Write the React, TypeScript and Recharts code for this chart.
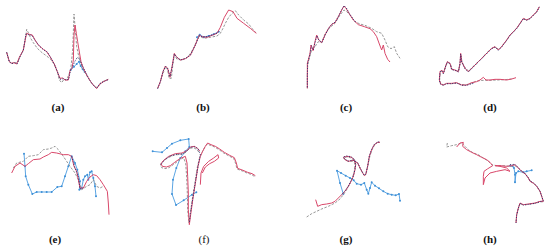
import { ScatterChart, Scatter, XAxis, YAxis } from "recharts";

type P = [number, number];

// panel coordinates: x 0..420, y 0..372 (y grows downward)
const aTruth: P[] = [[20,157],[28,183],[36,190],[44,187],[52,190],[60,170],[70,150],[76,115],[80,88],[86,100],[92,115],[100,128],[112,145],[126,158],[140,168],[152,178],[162,192],[172,215],[178,240],[185,248],[192,238],[200,240],[206,225],[212,210],[218,150],[222,42],[226,90],[230,140],[236,168],[244,195],[252,212],[262,230],[274,248],[285,260],[292,262],[300,250],[312,243],[325,238]];
const aOurs: P[] = [[20,157],[28,185],[35,190],[42,188],[50,192],[58,172],[70,150],[76,118],[80,100],[87,103],[97,105],[105,120],[115,135],[130,148],[140,155],[150,170],[163,192],[172,215],[180,235],[188,234],[195,240],[205,240],[210,212],[216,205],[220,180],[222,105],[225,75],[229,100],[233,125],[237,150],[243,185],[250,205],[260,225],[272,245],[284,260],[290,266],[300,252],[312,244],[325,238]];
const aNavy: P[] = [[20,157],[28,186],[36,191],[44,188],[52,191],[60,170],[70,151],[78,102],[86,104],[96,106],[106,122],[118,138],[130,149],[142,156],[152,172],[164,195],[174,220],[180,238],[190,236],[198,240],[206,238],[212,208],[218,200],[224,185],[232,172],[240,180],[246,195],[256,215],[266,235],[278,254],[290,264],[300,251],[312,244],[325,239]];
const aBlue: P[] = [[212,210],[222,200],[230,192],[237,185],[242,198],[248,208],[254,216]];

const bTruth: P[] = [[62,265],[68,250],[74,232],[80,215],[86,200],[92,210],[96,235],[103,235],[108,190],[112,165],[120,178],[135,180],[150,173],[162,158],[172,140],[182,115],[188,108],[200,115],[220,112],[240,108],[250,100],[258,85],[265,70],[275,52],[285,40],[295,32],[305,45],[320,60],[335,72],[345,85],[358,100]];
const bOurs: P[] = [[62,265],[70,245],[78,215],[85,198],[92,205],[99,232],[105,200],[112,160],[118,170],[130,180],[145,176],[160,166],[175,135],[187,105],[195,110],[210,112],[225,106],[240,100],[250,82],[262,52],[275,30],[288,35],[300,55],[320,70],[340,85],[358,100]];
const bNavy: P[] = [[62,266],[70,246],[78,214],[86,199],[93,207],[99,230],[106,198],[112,162],[119,172],[131,180],[146,175],[161,164],[176,133],[187,107],[196,111],[211,110],[226,104],[241,99],[248,92]];
const bBlue: P[] = [[180,112],[188,104],[200,111],[215,108],[230,103],[245,95]];

const cTruth: P[] = [[97,265],[97,230],[98,195],[103,175],[110,150],[120,140],[130,125],[140,128],[150,102],[165,82],[180,70],[195,45],[207,30],[215,35],[225,45],[240,65],[255,72],[270,76],[290,85],[305,95],[320,100],[330,120],[338,140],[348,146],[358,140],[365,160],[375,175]];
const cOurs: P[] = [[97,265],[97,230],[97,190],[100,180],[105,160],[108,135],[114,152],[120,125],[125,105],[131,120],[140,128],[150,105],[160,86],[170,73],[180,68],[190,50],[200,30],[207,18],[213,25],[222,40],[235,60],[250,74],[268,80],[285,86],[295,95],[305,110],[313,132],[320,150],[325,135],[330,160],[338,178],[345,186]];
const cNavy: P[] = [[97,262],[97,228],[98,188],[101,178],[106,158],[109,137],[115,150],[121,124],[126,107],[132,121],[141,127],[151,104],[161,85],[171,72],[181,66],[191,48],[201,28],[207,17],[214,24],[223,40],[236,60],[244,68]];
const cBlue: P[] = [];

const dTruth: P[] = [[305,237],[285,239],[262,240],[240,241],[220,241],[200,243],[185,249],[170,254],[155,254],[140,249],[125,251],[110,251],[100,254],[92,251],[89,238],[91,217],[96,212],[101,218],[108,197],[113,187],[121,191],[126,207],[136,211],[146,213],[150,192],[153,165],[156,186],[166,204],[176,213],[186,203],[196,193],[206,184],[216,174],[226,163],[236,153],[246,144],[256,141],[266,148],[276,138],[290,121],[300,106],[310,96],[320,84],[330,71],[340,57],[350,59],[360,56],[370,46],[380,36],[388,22]];
const dOurs: P[] = [[318,233],[305,237],[290,240],[270,238],[255,238],[240,240],[228,240],[220,232],[210,240],[200,245],[185,248],[170,255],[155,255],[140,248],[125,250],[110,250],[100,255],[92,252],[88,240],[90,215],[95,210],[100,220],[108,195],[112,185],[120,190],[125,208],[135,210],[145,215],[150,190],[152,160],[155,185],[165,205],[175,215],[185,205],[195,195],[205,185],[215,175],[225,165],[235,155],[245,145],[255,140],[265,150],[275,140],[290,120],[300,105],[310,95],[320,85],[330,70],[340,55],[350,60],[360,55],[370,45],[380,35],[388,20]];
const dNavy: P[] = [[190,250],[170,256],[155,256],[140,249],[125,251],[110,251],[100,256],[92,253],[88,241],[90,216],[95,211],[100,221],[108,196],[112,186],[120,191],[125,209],[135,211],[145,216],[150,191],[152,162],[155,186],[165,206],[175,216],[185,206],[195,196],[205,186],[215,176],[225,166],[235,156],[245,146],[255,141],[265,151],[275,141],[290,121],[300,106],[310,96],[320,86],[330,71],[340,56],[350,61],[360,56],[370,46],[380,36],[388,21]];
const dBlue: P[] = [];

const eTruth: P[] = [[40,135],[50,120],[70,115],[85,100],[100,98],[115,95],[130,80],[145,78],[155,75],[165,70],[175,80],[190,100],[200,115],[210,130],[225,150],[235,170],[245,200],[260,190],[270,185],[280,170],[290,190],[300,195],[310,190]];
const eOurs: P[] = [[35,150],[45,130],[60,120],[75,130],[85,122],[100,110],[120,108],[130,102],[145,95],[155,88],[170,90],[190,95],[205,95],[215,100],[222,130],[230,145],[240,195],[250,195],[260,175],[270,162],[280,155],[290,158],[300,170],[310,185],[322,205],[325,240],[327,275]];
const eNavy: P[] = [[215,100],[225,135],[235,160],[240,198],[250,195]];
const eBlue: P[] = [[72,92],[75,130],[77,160],[85,185],[97,213],[110,207],[125,207],[140,207],[155,207],[172,192],[185,190],[195,160],[205,130],[215,100],[225,120],[232,140],[240,175],[238,200],[245,195],[250,170],[255,160],[262,155],[265,170],[270,148],[275,145],[280,165],[285,190],[288,220]];

const fTruth: P[] = [[352,160],[342,154],[330,150],[316,144],[300,138],[296,122],[290,106],[276,99],[260,90],[246,80],[233,72],[220,67],[210,63],[203,73],[195,88],[188,104],[181,132],[174,178],[166,228],[159,278],[156,300],[152,262],[151,212],[149,162],[146,122],[140,104],[126,112],[110,124],[96,134],[84,137],[74,134],[70,126],[78,114],[93,104],[112,96],[132,94],[146,88],[158,76],[170,74],[180,80],[186,88]];
const fOurs: P[] = [[355,158],[345,152],[332,148],[318,142],[302,136],[298,120],[292,104],[278,97],[262,88],[248,78],[235,70],[222,65],[212,60],[205,70],[197,85],[190,100],[183,130],[176,175],[168,225],[161,275],[157,305],[154,260],[154,210],[152,160],[150,120],[145,100],[130,106],[113,118],[100,128],[88,132],[76,130],[72,122],[80,112],[95,100],[115,92],[135,90],[148,84],[160,72],[172,70],[182,76],[188,84]];
const fLoop: P[] = [[190,185],[192,150],[200,130],[215,115],[230,105],[243,95],[245,105],[232,115],[218,122],[205,132],[196,150]];
const fNavy: P[] = [[72,124],[85,109],[100,99],[120,94],[138,93],[150,84],[160,73],[172,71],[183,77],[190,95],[184,125],[176,172],[168,222],[160,272],[157,300]];
const fBlue: P[] = [[47,85],[75,88],[90,75],[105,62],[130,52],[155,48],[157,72],[145,85],[130,105],[118,135],[108,170],[105,213],[117,246],[140,232],[165,215],[178,208]];

const gTruth: P[] = [[95,282],[110,272],[125,265],[140,258],[160,250],[180,240],[195,228],[205,215],[215,200],[225,182],[232,165],[238,145],[240,125],[236,112],[226,104],[214,102],[206,105],[212,112],[222,116],[236,114],[249,122],[256,138],[263,150],[269,157],[274,150],[279,125],[285,98],[292,78],[300,64],[310,57],[315,58]];
const gOurs: P[] = [[122,230],[128,250],[140,245],[155,243],[170,240],[180,235],[190,225],[200,215],[210,205],[220,190],[228,175],[235,160],[240,140],[242,125],[238,110],[228,102],[215,100],[205,103],[210,110],[220,115],[235,112],[248,120],[255,135],[262,148],[268,158],[272,155],[278,130],[283,100],[290,80],[298,65],[308,58],[315,58]];
const gNavy: P[] = [[200,214],[210,204],[220,189],[228,174],[235,159],[240,139],[242,124],[238,109],[228,101],[215,99],[205,102],[210,109],[220,114],[235,111],[248,119],[255,134],[262,147],[268,157],[272,154],[278,129],[283,99],[290,79],[298,64],[308,57],[315,57]];
const gBlue: P[] = [[205,213],[195,180],[186,143],[198,150],[212,158],[225,165],[236,172],[245,182],[258,185],[268,180],[275,200],[280,212],[285,195],[290,178],[300,188],[312,196],[325,205],[338,212],[350,215],[362,217],[372,213],[375,233]];

const hTruth: P[] = [[112,60],[110,72],[125,68],[140,65],[155,60],[165,70],[175,80],[190,90],[205,95],[220,105],[235,115],[245,125],[260,128],[280,128],[300,130],[315,128],[325,136],[335,146],[346,153],[356,166],[362,176],[372,182],[382,192],[391,207],[396,222],[400,236],[390,237],[375,241],[355,244],[340,246],[330,242],[325,257],[320,277],[318,300]];
const hOurs: P[] = [[140,72],[150,60],[160,58],[158,70],[170,80],[185,88],[200,95],[215,103],[230,110],[240,118],[248,128],[232,138],[222,145],[220,160],[220,185],[225,165],[240,150],[260,145],[285,140],[300,145],[290,135],[270,130],[255,128],[270,128],[290,130],[305,128],[315,125],[325,135],[335,145],[345,152],[355,165],[360,175],[370,180],[380,190],[390,205],[395,220],[400,235],[390,235],[375,240],[355,243],[340,245],[330,240],[325,255],[320,275],[318,300]];
const hNavy: P[] = [[300,125],[315,124],[325,134],[335,144],[345,151],[355,164],[360,174],[370,179],[380,189],[390,204],[395,219],[400,234],[390,236],[375,241],[355,244],[340,246],[330,241],[325,256],[320,276],[318,300]];
const hBlue: P[] = [[300,128],[308,130],[312,135],[315,155],[315,178],[318,150],[325,145],[340,148],[350,145],[365,142]];

const labels = ["(a)", "(b)", "(c)", "(d)", "(e)", "(f)", "(g)", "(h)"];

const panels = [
  { truth: [aTruth], ours: [aOurs], navy: aNavy, blue: aBlue },
  { truth: [bTruth], ours: [bOurs], navy: bNavy, blue: bBlue },
  { truth: [cTruth], ours: [cOurs], navy: cNavy, blue: cBlue },
  { truth: [dTruth], ours: [dOurs], navy: dNavy, blue: dBlue },
  { truth: [eTruth], ours: [eOurs], navy: eNavy, blue: eBlue },
  { truth: [fTruth], ours: [fOurs, fLoop], navy: fNavy, blue: fBlue },
  { truth: [gTruth], ours: [gOurs], navy: gNavy, blue: gBlue },
  { truth: [hTruth], ours: [hOurs], navy: hNavy, blue: hBlue },
];

const origins = [
  [0, 0], [137, 0], [275, 0], [410, 0],
  [0, 123], [137, 123], [275, 123], [410, 123],
];
const labelX = [58, 203, 346, 490, 55, 204, 346, 490];

const toXY = (pts: P[]) => pts.map(([x, y]) => ({ x, y }));
const noDot = () => <g />;
const blueDot = (p: any) => <circle cx={p.cx} cy={p.cy} r={1} fill="#3d8fd6" />;

function Panel({ idx }: { idx: number }) {
  const p = panels[idx];
  const [left, top] = origins[idx];
  return (
    <div style={{ position: "absolute", left, top }}>
      <ScatterChart width={140} height={124} margin={{ top: 0, right: 0, bottom: 0, left: 0 }}>
        <XAxis type="number" dataKey="x" domain={[0, 420]} hide />
        <YAxis type="number" dataKey="y" domain={[0, 372]} reversed hide />
        {p.blue.length > 0 && (
          <Scatter data={toXY(p.blue)} line={{ stroke: "#4a9be0", strokeWidth: 0.9 }} lineType="joint" shape={blueDot} isAnimationActive={false} />
        )}
        {p.truth.map((t, i) => (
          <Scatter key={"t" + i} data={toXY(t)} line={{ stroke: "#8a8a8a", strokeWidth: 0.9, strokeDasharray: "2.5 1.5" }} lineType="joint" shape={noDot} isAnimationActive={false} />
        ))}
        {p.ours.map((t, i) => (
          <Scatter key={"o" + i} data={toXY(t)} line={{ stroke: "#d9486a", strokeWidth: 1 }} lineType="joint" shape={noDot} isAnimationActive={false} />
        ))}
        <Scatter data={toXY(p.navy)} line={{ stroke: "#2e2a6b", strokeWidth: 0.9, strokeDasharray: "1.2 1.4" }} lineType="joint" shape={noDot} isAnimationActive={false} />
      </ScatterChart>
    </div>
  );
}

export default function App() {
  return (
    <div style={{ position: "absolute", left: 0, top: 0, width: 550, height: 247, background: "#fff", overflow: "hidden" }}>
      {panels.map((_, i) => (
        <Panel key={i} idx={i} />
      ))}
      {labels.map((l, i) => (
        <div
          key={l}
          style={{
            position: "absolute",
            left: labelX[i],
            top: origins[i][1] + (i < 4 ? 101 : 110),
            transform: "translateX(-50%)",
            fontFamily: "'Liberation Serif', 'Times New Roman', serif",
            fontWeight: i === 5 ? "normal" : "bold",
            fontSize: 11,
            color: "#111",
          }}
        >
          {l}
        </div>
      ))}
    </div>
  );
}
